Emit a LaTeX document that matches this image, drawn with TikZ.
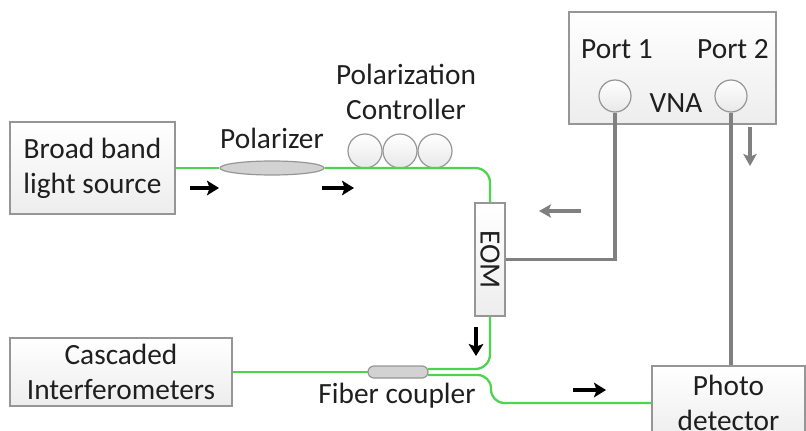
\documentclass[tikz,border=0pt]{standalone}
\usepackage{fontspec}
\setmainfont{Carlito}
\usetikzlibrary{arrows.meta,shapes.geometric}
\definecolor{fibergreen}{RGB}{76,212,76}
\definecolor{edgegray}{RGB}{150,150,150}
\definecolor{cablegray}{RGB}{128,128,128}
\tikzset{
  every node/.style={font=\fontsize{22}{26.25}\selectfont, text=black!88},
  boxnode/.style={draw=edgegray, line width=1pt, top color=white, bottom color=gray!14,
    inner sep=0pt, align=center},
  fiber/.style={draw=fibergreen, line width=1.7pt},
  cable/.style={draw=cablegray, line width=2.4pt},
  knob/.style={circle, draw=edgegray, line width=0.9pt, top color=white, bottom color=gray!18,
    inner sep=0pt},
  flow/.style={-{Stealth[length=9pt,width=11pt,inset=2pt]}, line width=3pt, black},
  rfflow/.style={-{Stealth[length=9pt,width=10pt,inset=2pt]}, line width=2.4pt, cablegray},
}
\begin{document}
\begin{tikzpicture}[x=0.75pt, y=-0.75pt]
\useasboundingbox (0,0) rectangle (806,431);
\clip (0,0) rectangle (806,431);

% instruments
\node[boxnode, minimum width=123.75pt, minimum height=69pt] (src) at (92.5,168)
  {Broad band\\light source};
\node[boxnode, minimum width=166.5pt, minimum height=51pt] (casc) at (121,372)
  {Cascaded\\Interferometers};
\node[boxnode, minimum width=155.25pt, minimum height=84pt] (vna) at (672.5,68) {};
\node[boxnode, minimum width=114.75pt, minimum height=55.5pt] (pd) at (728.5,403)
  {Photo\\detector};

% VNA ports and labels
\node (p1lbl) at (617,49) {Port 1};
\node (p2lbl) at (733,49) {Port 2};
\node (vnalbl) at (676,103) {VNA};
\node[knob, minimum size=24pt] (p1) at (615,96) {};
\node[knob, minimum size=24pt] (p2) at (731,96) {};

% polarizer and polarization controller
\node[ellipse, draw=edgegray, line width=0.9pt, fill=gray!35, minimum width=78pt,
  minimum height=10.5pt, inner sep=0pt] (pol) at (272,168) {};
\node (pollbl) at (272,138) {Polarizer};
\node[align=center] (pclbl) at (406,92) {Polarization\\Controller};
\node[knob, minimum size=25.5pt] (pc1) at (365,151) {};
\node[knob, minimum size=25.5pt] (pc2) at (400,151) {};
\node[knob, minimum size=25.5pt] (pc3) at (435,151) {};

% modulator
\node[boxnode, minimum width=22.5pt, minimum height=84.75pt] (eom) at (490,259.5) {};
\node[rotate=-90] (eomlbl) at (490,259.5) {EOM};

% coupler ports
\coordinate (cin) at (368,372);
\coordinate (cup) at (428,369);
\coordinate (clo) at (428,375);

% optical fibre
\draw[fiber] (src.east |- pol.west) -- (pol.west);
\draw[fiber, rounded corners=11pt] (pol.east) -- (eom.north |- pol.east) -- (eom.north);
\draw[fiber, rounded corners=11pt] (eom.south) -- (eom.south |- cup) -- (cup);
\draw[fiber, rounded corners=10pt] (clo) -- (491,375) -- (491,403) -- (pd.west |- 0,403);
\draw[fiber] (casc.east) -- (cin);
\node[draw=edgegray, line width=0.9pt, fill=gray!35, rounded corners=4.5pt,
  minimum width=45pt, minimum height=9pt, inner sep=0pt] (coup) at (398,372) {};
\node (couplbl) at (397,396) {Fiber coupler};

% RF cables
\draw[cable] (p1.south) -- (p1.south |- eom.east) -- (eom.east);
\draw[cable] (p2.south) -- (p2.south |- pd.north);

% signal direction
\coordinate (a1s) at (190,188); \coordinate (a1e) at (219,188);
\coordinate (a2s) at (322,188); \coordinate (a2e) at (354,188);
\coordinate (a3s) at (476,327); \coordinate (a3e) at (476,356);
\coordinate (a4s) at (573,390); \coordinate (a4e) at (606,390);
\coordinate (g1s) at (750,127); \coordinate (g1e) at (750,166);
\coordinate (g2s) at (581,211); \coordinate (g2e) at (539,211);
\draw[flow] (a1s) -- (a1e);
\draw[flow] (a2s) -- (a2e);
\draw[flow] (a3s) -- (a3e);
\draw[flow] (a4s) -- (a4e);
\draw[rfflow] (g1s) -- (g1e);
\draw[rfflow] (g2s) -- (g2e);
\end{tikzpicture}
\end{document}
